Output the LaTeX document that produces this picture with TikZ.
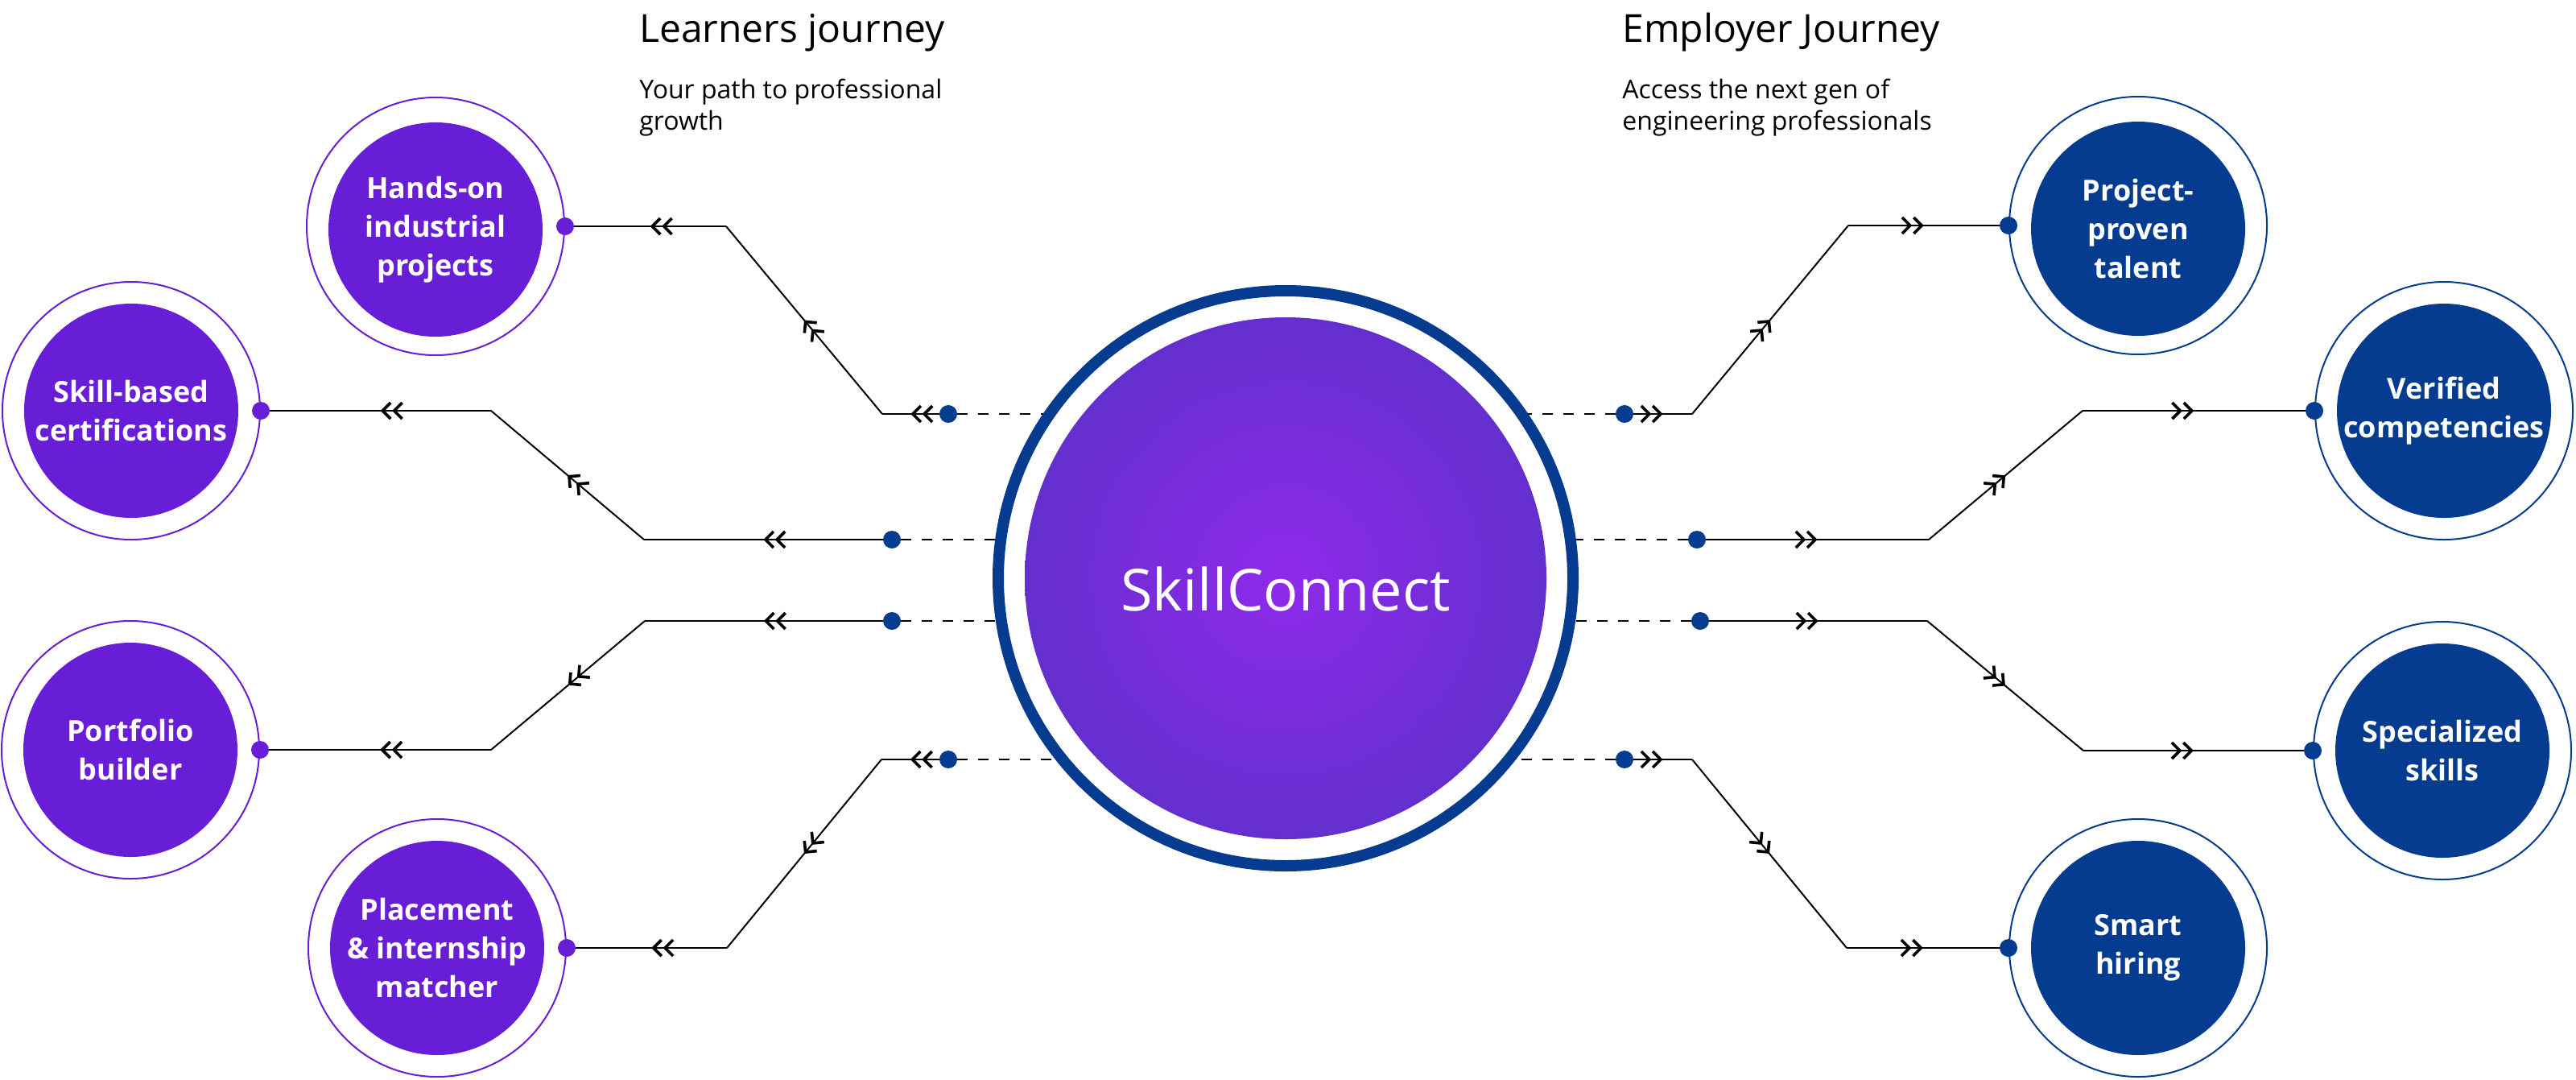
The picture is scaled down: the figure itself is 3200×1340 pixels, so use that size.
\documentclass[tikz,border=0pt]{standalone}
\usepackage{fontspec}
\setmainfont{Open Sans}
\usepackage{tikz}
\usetikzlibrary{arrows.meta,decorations.markings,positioning}

\definecolor{learnpurple}{RGB}{104,29,214}
\definecolor{empblue}{RGB}{5,60,143}
\definecolor{glowcore}{RGB}{142,42,234}
\definecolor{glowedge}{RGB}{60,52,178}
\pgfdeclareradialshading{hubglow}{\pgfpoint{0bp}{0bp}}{color(0bp)=(glowcore); color(50bp)=(glowedge)}

\tikzset{
	chev/.tip={Straight Barb[length=5pt,width=10pt,line width=1.8pt] Straight Barb[length=5pt,width=10pt,line width=1.8pt]},
	flow/.style={line width=1pt, postaction={decorate},
		decoration={markings, mark=at position 0.5 with {\arrow{chev}}}},
	dashline/.style={line width=1pt, dash pattern=on 6.5pt off 6.5pt},
	title/.style={font=\fontsize{24}{29}\selectfont, inner sep=0pt},
	subtitle/.style={font=\fontsize{16}{19.5}\selectfont, align=left, inner sep=0pt},
	lring/.style={circle, draw=learnpurple, line width=1pt, fill=white, minimum size=160pt, inner sep=0pt},
	ldisc/.style={circle, fill=learnpurple, text=white, minimum size=133pt, inner sep=0pt, align=center, font=\bfseries\fontsize{18}{24}\selectfont},
	ering/.style={lring, draw=empblue},
	edisc/.style={ldisc, fill=empblue},
	ldot/.style={circle, fill=learnpurple, minimum size=11pt, inner sep=0pt},
	edot/.style={ldot, fill=empblue}
}

\begin{document}
\begin{tikzpicture}[x=0.5pt, y=-0.5pt]
	\useasboundingbox (0,0) rectangle (3200,1340);
	\fill[white] (0,0) rectangle (3200,1340);
	
	% headings
	\node[title, anchor=base west] (learnhead) at (794,52) {Learners journey};
	\node[subtitle, anchor=north west] (learnsub) at (794,98) {Your path to professional\\growth};
	\node[title, anchor=base west] (emphead) at (2015,52) {Employer Journey};
	\node[subtitle, anchor=north west] (empsub) at (2015,98) {Access the next gen of\\engineering professionals};
	
	% dots next to the hub
	\coordinate (hubc) at (1597,718);
	\node[edot] (ld1) at (1178,514) {};
	\node[edot] (ld2) at (1108,670) {};
	\node[edot] (ld3) at (1108,771) {};
	\node[edot] (ld4) at (1178,943) {};
	\node[edot] (rd1) at (2018,514) {};
	\node[edot] (rd2) at (2108,670) {};
	\node[edot] (rd3) at (2112,771) {};
	\node[edot] (rd4) at (2018,943) {};
	
	\draw[dashline] (ld1) -- (ld1 -| hubc);
	\draw[dashline] (ld2) -- (ld2 -| hubc);
	\draw[dashline] (ld3) -- (ld3 -| hubc);
	\draw[dashline] (ld4) -- (ld4 -| hubc);
	\draw[dashline] (rd1) -- (rd1 -| hubc);
	\draw[dashline] (rd2) -- (rd2 -| hubc);
	\draw[dashline] (rd3) -- (rd3 -| hubc);
	\draw[dashline] (rd4) -- (rd4 -| hubc);
	
	% hub
	\node[circle, draw=empblue, line width=7pt, fill=white, minimum size=357pt, inner sep=0pt] (hub) at (hubc) {};
	\node[circle, shade, shading=hubglow, minimum size=324pt, inner sep=0pt] (hubdisc) at (hubc) {};
	\node[text=white, font=\fontsize{36}{40}\selectfont, anchor=base, inner sep=0pt] (hubname) at ([yshift=-20pt]hubc) {SkillConnect};
	
	% learner side
	\node[lring] (hands) at (541,281) {};
	\node[ldisc] at ([yshift=-2pt]hands) {Hands-on\\industrial\\projects};
	\node[ldot] (handsdot) at (hands.east) {};
	\node[lring] (skill) at (163,510) {};
	\node[ldisc] at (skill) {Skill-based\\certifications};
	\node[ldot] (skilldot) at (skill.east) {};
	\node[lring] (folio) at (162,931) {};
	\node[ldisc] at (folio) {Portfolio\\builder};
	\node[ldot] (foliodot) at (folio.east) {};
	\node[lring] (place) at (543,1177) {};
	\node[ldisc] at (place) {Placement\\\& internship\\matcher};
	\node[ldot] (placedot) at (place.east) {};
	
	% employer side
	\node[ering] (proven) at (2656,280) {};
	\node[edisc] at ([yshift=-2pt]proven) {Project-\\proven\\talent};
	\node[edot] (provendot) at (proven.west) {};
	\node[ering] (verif) at (3036,510) {};
	\node[edisc] at (verif) {Verified\\competencies};
	\node[edot] (verifdot) at (verif.west) {};
	\node[ering] (special) at (3034,932) {};
	\node[edisc] at (special) {Specialized\\skills};
	\node[edot] (specialdot) at (special.west) {};
	\node[ering] (smart) at (2656,1177) {};
	\node[edisc] at (smart) {Smart\\hiring};
	\node[edot] (smartdot) at (smart.west) {};
	
	% bends of the connectors
	\coordinate (hk1) at (902,281);   \coordinate (hk2) at (1096,514);
	\coordinate (sk1) at (610,510);   \coordinate (sk2) at (800,670);
	\coordinate (fk1) at (610,931);   \coordinate (fk2) at (801,771);
	\coordinate (pk1) at (903,1177);  \coordinate (pk2) at (1095,943);
	\coordinate (vk1) at (2296,280);  \coordinate (vk2) at (2102,514);
	\coordinate (ck1) at (2587,510);  \coordinate (ck2) at (2396,670);
	\coordinate (xk1) at (2588,932);  \coordinate (xk2) at (2394,771);
	\coordinate (mk1) at (2294,1177); \coordinate (mk2) at (2102,943);
	
	%learner connectors
	\draw[flow] (ld1) -- (hk2);
	\draw[flow] (hk2) -- (hk1);
	\draw[flow] (hk1) -- (handsdot);
	\draw[flow] (ld2) -- (sk2);
	\draw[flow] (sk2) -- (sk1);
	\draw[flow] (sk1) -- (skilldot);
	\draw[flow] (ld3) -- (fk2);
	\draw[flow] (fk2) -- (fk1);
	\draw[flow] (fk1) -- (foliodot);
	\draw[flow] (ld4) -- (pk2);
	\draw[flow] (pk2) -- (pk1);
	\draw[flow] (pk1) -- (placedot);
	
	%employer connectors
	\draw[flow] (rd1) -- (vk2);
	\draw[flow] (vk2) -- (vk1);
	\draw[flow] (vk1) -- (provendot);
	\draw[flow] (rd2) -- (ck2);
	\draw[flow] (ck2) -- (ck1);
	\draw[flow] (ck1) -- (verifdot);
	\draw[flow] (rd3) -- (xk2);
	\draw[flow] (xk2) -- (xk1);
	\draw[flow] (xk1) -- (specialdot);
	\draw[flow] (rd4) -- (mk2);
	\draw[flow] (mk2) -- (mk1);
	\draw[flow] (mk1) -- (smartdot);
\end{tikzpicture}
\end{document}
